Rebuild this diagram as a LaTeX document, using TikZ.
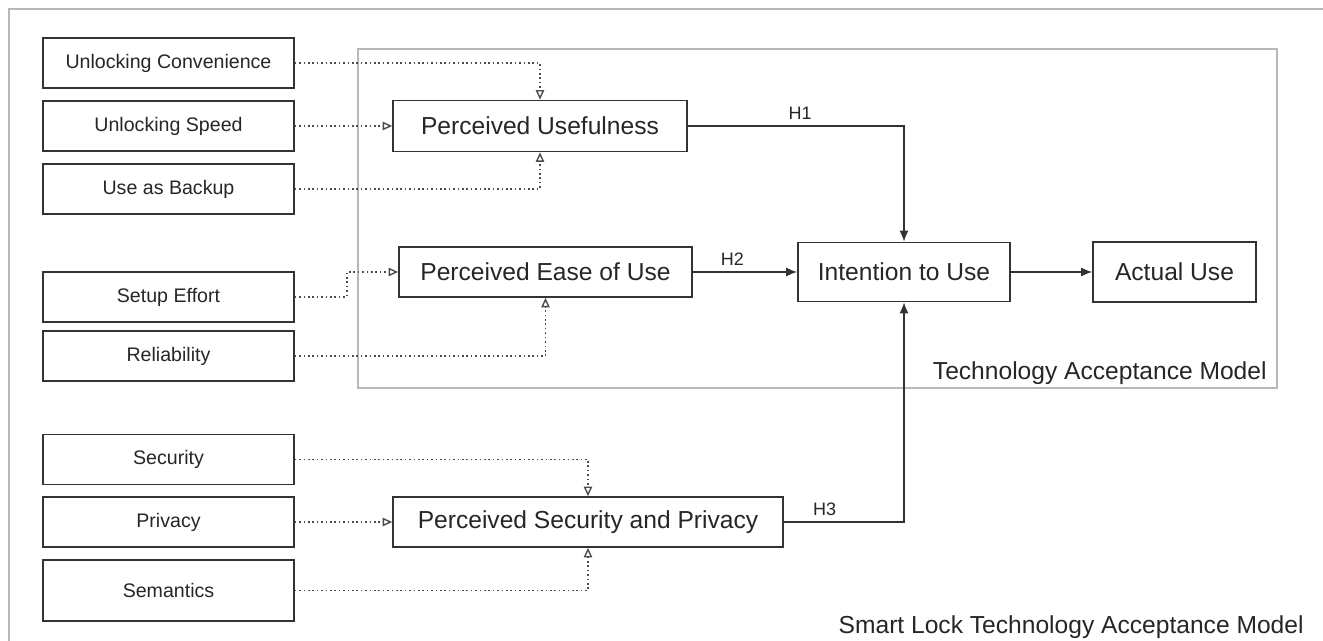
\documentclass[tikz,border=0pt]{standalone}
\usepackage{fontspec}
\setmainfont{Liberation Sans}
\usetikzlibrary{arrows.meta}

\begin{document}
\begin{tikzpicture}[x=0.5pt,y=-0.5pt,
   box/.style={draw=black!80, line width=0.8pt, text=black!85, inner sep=0pt},
   factor/.style={box, minimum width=125.5pt, minimum height=25pt, font=\fontsize{9.8}{11}\selectfont},
   construct/.style={box, minimum height=25pt, font=\fontsize{12.3}{14}\selectfont},
   influence/.style={draw=black!70, line width=0.7pt, dash pattern=on 0.8pt off 1.4pt,
      -{Triangle[open,length=4.8pt,width=4.2pt,line width=0.7pt]}},
   hypo/.style={draw=black!80, line width=0.75pt, -{Latex[length=5.5pt,width=4.5pt]}},
   hlabel/.style={above, text=black!85, inner sep=3pt, font=\fontsize{9}{10}\selectfont},
   modellabel/.style={anchor=base east, text=black!85, inner sep=0pt, font=\fontsize{12.3}{14}\selectfont},
   frame/.style={draw=black!28, line width=1pt}]
   \useasboundingbox (0,0) rectangle (1323,641);
   % frames of the two models
   \draw[frame] (9,9) rectangle (1345,665);
   \draw[frame] (358,49) rectangle (1277,388);
   \node[modellabel] (tamlabel) at (1267,380) {Technology Acceptance Model};
   \node[modellabel] (sltamlabel) at (1304,633) {Smart Lock Technology Acceptance Model};
   % external factors
   \foreach \y/\name/\txt in {63/uc/Unlocking Convenience, 126/us/Unlocking Speed, 189/ub/Use as Backup,
         297/se/Setup Effort, 356/rel/Reliability, 459.5/sec/Security, 522/pri/Privacy}
    \node[factor] (\name) at (168.5,\y) {\txt};
   \node[factor, minimum height=30.5pt] (sem) at (168.5,590.5) {Semantics};
   % constructs
   \node[construct, minimum width=147pt, minimum height=25.5pt] (pu) at (540,126) {Perceived Usefulness};
   \node[construct, minimum width=146.5pt] (peou) at (545.5,272) {Perceived Ease of Use};
   \node[construct, minimum width=106pt, minimum height=29.5pt] (itu) at (904,272) {Intention to Use};
   \node[construct, minimum width=81.5pt, minimum height=30pt] (au) at (1174.5,272) {Actual Use};
   \node[construct, minimum width=195pt] (psp) at (588,522) {Perceived Security and Privacy};
   % influences
   \draw[influence] (uc) -| (pu);
   \draw[influence] (us) -- (pu);
   \draw[influence] (ub) -| (pu);
   \draw[influence] (se.east) -- ++(52,0) |- (peou.west);
   \draw[influence] (rel) -| (peou);
   \draw[influence] (sec) -| (psp);
   \draw[influence] (pri) -- (psp);
   \draw[influence] (sem) -| (psp);
   % hypotheses
   \draw[hypo] (pu) -| node[hlabel, pos=0.26] (h1) {H1} (itu);
   \draw[hypo] (peou) -- node[hlabel, pos=0.38] (h2) {H2} (itu);
   \draw[hypo] (itu) -- (au);
   \draw[hypo] (psp) -| node[hlabel, pos=0.17] (h3) {H3} (itu);
\end{tikzpicture}
\end{document}
